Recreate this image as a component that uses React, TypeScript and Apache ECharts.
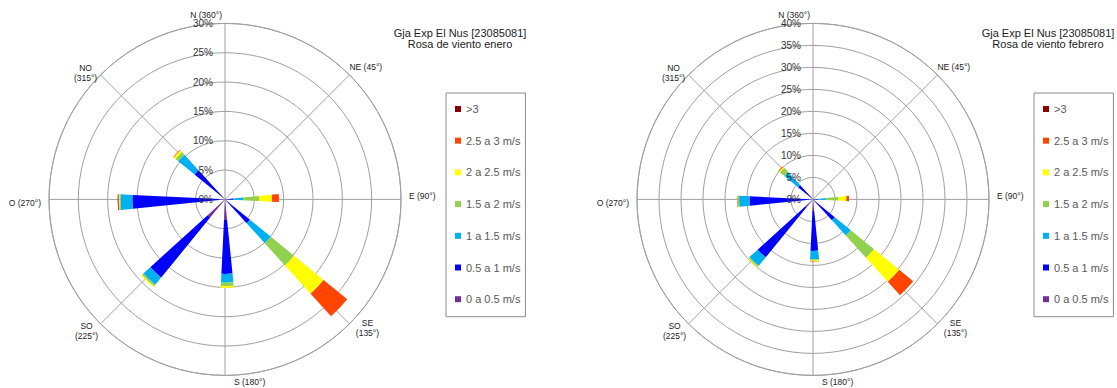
import React, { useEffect, useRef } from 'react';
import * as echarts from 'echarts';

// ---------- DATA ----------
const directions = ['N', 'NE', 'E', 'SE', 'S', 'SO', 'O', 'NO'];
const directionLabels = ['N (360°)', 'NE (45°)', 'E (90°)', 'SE\n(135°)', 'S (180°)', 'SO\n(225°)', 'O (270°)', 'NO\n(315°)'];
const speedClasses = ['0 a 0.5 m/s', '0.5 a 1 m/s', '1 a 1.5 m/s', '1.5 a 2 m/s', '2 a 2.5 m/s', '2.5 a 3 m/s', '>3'];
const classColors = ['#7030A0', '#0000FF', '#00B0F0', '#92D050', '#FFFF00', '#FF4500', '#8B0000'];

const stationName = 'Gja Exp El Nus [23085081]';
const eneroTitle = 'Rosa de viento enero';
const febreroTitle = 'Rosa de viento febrero';

// frequency (%) per direction, order N, NE, E, SE, S, SO, O, NO
const enero_0_05 = [0, 0, 0.2, 0.4, 3.5, 4.0, 1.0, 0.5];
const enero_05_1 = [0, 0, 1.2, 5.1, 9.2, 13.2, 14.8, 6.2];
const enero_1_15 = [0, 0, 1.7, 4.6, 1.5, 1.6, 2.0, 3.6];
const enero_15_2 = [0, 0, 2.7, 5.1, 0.6, 0.3, 0.2, 0.6];
const enero_2_25 = [0, 0, 2.2, 6.5, 0.3, 0.2, 0.1, 0.4];
const enero_25_3 = [0, 0, 1.2, 5.2, 0, 0, 0.1, 0.1];
const enero_3 = [0, 0, 0, 0, 0, 0, 0.1, 0];

const febrero_0_05 = [0, 0, 0.1, 0.3, 2.5, 2.3, 0.8, 0.4];
const febrero_05_1 = [0, 0, 1.0, 6.1, 9.2, 14.7, 13.6, 4.0];
const febrero_1_15 = [0, 0, 1.8, 4.7, 1.9, 2.5, 2.4, 4.0];
const febrero_15_2 = [0, 0, 2.8, 6.8, 0.3, 0.3, 0.3, 1.3];
const febrero_2_25 = [0, 0, 1.9, 7.4, 0.2, 0.2, 0.1, 0.3];
const febrero_25_3 = [0, 0, 0.6, 4.1, 0.1, 0, 0.1, 0.2];
const febrero_3 = [0, 0, 0, 0, 0, 0, 0, 0];

const eneroMax = 30;
const febreroMax = 40;
const tickStep = 5;

// ---------- STYLE ----------
const FONT = '"Liberation Sans", Arial, Helvetica, sans-serif';
const GRID = '#A0A0A0';

function buildOption() {
  const roses = [
    {
      cx: 225, cy: 199.4, R: 176, max: eneroMax, legendLeft: 446, titleX: 460,
      title: stationName + '\n' + eneroTitle, stack: 'enero',
      data: [enero_0_05, enero_05_1, enero_1_15, enero_15_2, enero_2_25, enero_25_3, enero_3],
    },
    {
      cx: 813, cy: 199.4, R: 176, max: febreroMax, legendLeft: 1034, titleX: 1048,
      title: stationName + '\n' + febreroTitle, stack: 'febrero',
      data: [febrero_0_05, febrero_05_1, febrero_1_15, febrero_15_2, febrero_2_25, febrero_25_3, febrero_3],
    },
  ];

  const polar: any[] = [];
  const angleAxis: any[] = [];
  const radiusAxis: any[] = [];
  const series: any[] = [];
  const legend: any[] = [];
  const graphic: any[] = [];
  const legendOrder = speedClasses.slice().reverse();

  roses.forEach((r, k) => {
    const g = 3 * k, b = 3 * k + 1, l = 3 * k + 2;
    for (let i = 0; i < 3; i++) polar.push({ center: [r.cx, r.cy], radius: r.R });

    // grid polar
    angleAxis.push({
      polarIndex: g, type: 'value', min: 0, max: 360, interval: 45, startAngle: 90, clockwise: true,
      axisLine: { show: true, lineStyle: { color: GRID, width: 1 } },
      axisTick: { show: false }, axisLabel: { show: false },
      splitLine: { show: true, lineStyle: { color: GRID, width: 1 } },
    });
    radiusAxis.push({
      polarIndex: g, type: 'value', min: 0, max: r.max, interval: tickStep,
      axisLine: { show: false }, axisTick: { show: false }, axisLabel: { show: false },
      splitLine: { show: true, lineStyle: { color: GRID, width: 1 } },
    });
    // bar polar
    angleAxis.push({
      polarIndex: b, type: 'category', data: directions, boundaryGap: false,
      startAngle: 91.5, clockwise: true, show: false,
    });
    radiusAxis.push({ polarIndex: b, type: 'value', min: 0, max: r.max, show: false });
    // label polar
    angleAxis.push({ polarIndex: l, type: 'value', min: 0, max: 360, startAngle: 90, show: false });
    radiusAxis.push({
      polarIndex: l, type: 'value', min: 0, max: r.max, interval: tickStep, z: 10,
      axisLine: { show: false }, axisTick: { show: false }, splitLine: { show: false },
      axisLabel: { formatter: '{value}%', fontSize: 10, color: '#333', margin: 12, fontFamily: FONT },
    });

    speedClasses.forEach((name, i) => {
      series.push({
        type: 'bar', name, coordinateSystem: 'polar', polarIndex: b, stack: r.stack,
        data: r.data[i], barWidth: '19%', silent: true,
        itemStyle: { color: classColors[i] },
        emphasis: { disabled: true },
      });
    });

    legend.push({
      orient: 'vertical', left: r.legendLeft, top: 93, data: legendOrder,
      icon: 'rect', itemWidth: 6, itemHeight: 6, itemGap: 20.7,
      padding: [10.5, 5, 12, 9], borderColor: '#8a8a8a', borderWidth: 1, backgroundColor: '#fff',
      textStyle: { fontSize: 11, color: '#595959', fontFamily: FONT },
      selectedMode: false,
    });

    graphic.push({
      type: 'text', x: r.titleX, y: 38, silent: true,
      style: {
        text: r.title, fill: '#222', font: `11px ${FONT}`, textAlign: 'center',
        textVerticalAlign: 'middle', lineHeight: 11,
      },
    });

    const d = r.R * Math.SQRT1_2;
    const { cx, cy, R } = r;
    const places: [number, number, string][] = [
      [cx - 3, cy - R - 8.5, 'right'],
      [cx + d, cy - d - 8, 'left'],
      [cx + R + 8, cy - 3, 'left'],
      [cx + d + 18, cy + d + 4, 'center'],
      [cx + 9, cy + R + 7, 'left'],
      [cx - d - 14, cy + d + 7, 'center'],
      [cx - R - 8, cy + 4, 'right'],
      [cx - d - 15, cy - d - 2, 'center'],
    ];
    directionLabels.forEach((text, i) => {
      const [x, y, align] = places[i];
      graphic.push({
        type: 'text', x, y, silent: true, z: 20,
        style: {
          text, fill: '#222', font: `8.5px ${FONT}`, textAlign: align,
          textVerticalAlign: 'middle', lineHeight: 10.5,
        },
      });
    });
  });

  return {
    animation: false,
    backgroundColor: '#fff',
    textStyle: { fontFamily: FONT },
    polar, angleAxis, radiusAxis, series, legend, graphic,
  };
}

export default function App() {
  const ref = useRef<HTMLDivElement>(null);
  useEffect(() => {
    const chart = echarts.init(ref.current as HTMLDivElement, undefined, { renderer: 'svg', width: 1117, height: 388 });
    chart.setOption(buildOption() as any);
    return () => chart.dispose();
  }, []);
  return (
    <div
      ref={ref}
      style={{ position: 'fixed', left: 0, top: 0, width: 1117, height: 388, background: '#fff' }}
    />
  );
}
